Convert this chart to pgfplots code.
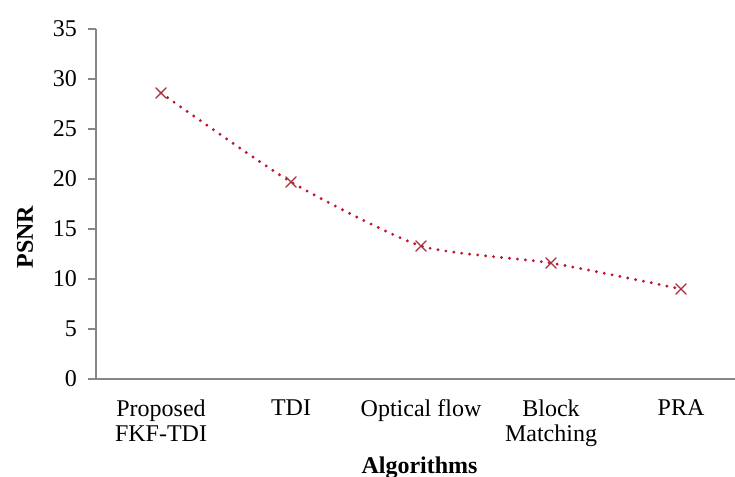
\documentclass[border=0pt]{standalone}
\usepackage{pgfplots}
\pgfplotsset{compat=1.18}
\usepackage{fontspec}
\setmainfont{Liberation Serif}
\definecolor{axgray}{RGB}{134,134,134}
\definecolor{lineRed}{RGB}{192,20,50}
\definecolor{markRed}{RGB}{170,45,60}
\begin{document}
\begin{tikzpicture}[x=0.5pt,y=0.5pt]
\path[use as bounding box] (-96,-98) rectangle (639,379);
\begin{axis}[
  at={(0,0)}, anchor=south west,
  scale only axis, width=319.5pt, height=175pt,
  xmin=-0.5, xmax=4.415, ymin=0, ymax=35,
  axis x line=bottom, axis y line=left,
  axis line style={axgray, line width=0.6pt, -},
  every tick/.style={axgray, line width=0.6pt},
  ytick={0,5,...,35},
  tick align=outside,
  major tick length=4pt,
  xtick={0,1,2,3,4},
  xticklabels={{Proposed\\FKF-TDI},{TDI},{Optical flow},{Block\\Matching},{PRA}},
  x tick label style={align=center, font=\fontsize{12}{12.5}\selectfont, anchor=north, yshift=-3pt},
  xtick style={draw=none},
  extra x ticks={-0.5,0.5,1.5,2.5,3.5},
  extra x tick labels={},
  extra x tick style={tick style={axgray, line width=0.6pt}, major tick length=3pt},
  y tick label style={font=\fontsize{12}{13}\selectfont, xshift=-2pt},
  /pgf/number format/assume math mode=true,
  xlabel={\textbf{Algorithms}},
  ylabel={\textbf{PSNR}},
  xlabel style={font=\fontsize{12}{13}\selectfont, at={(axis description cs:0.5,0)}, anchor=center, yshift=-44.5pt, xshift=2pt},
  ylabel style={font=\fontsize{12}{13}\selectfont, at={(axis description cs:-0.111,0.406)}, anchor=center},
  clip=false,
]
\addplot[lineRed, line width=1.6pt, dash pattern=on 0pt off 4pt, line cap=round, smooth, tension=0.35,
  mark=x, mark size=3.7pt, mark options={markRed, solid, line width=0.6pt}]
  coordinates {(0,28.6) (1,19.7) (2,13.3) (3,11.6) (4,9.0)};
\end{axis}
\end{tikzpicture}
\end{document}
